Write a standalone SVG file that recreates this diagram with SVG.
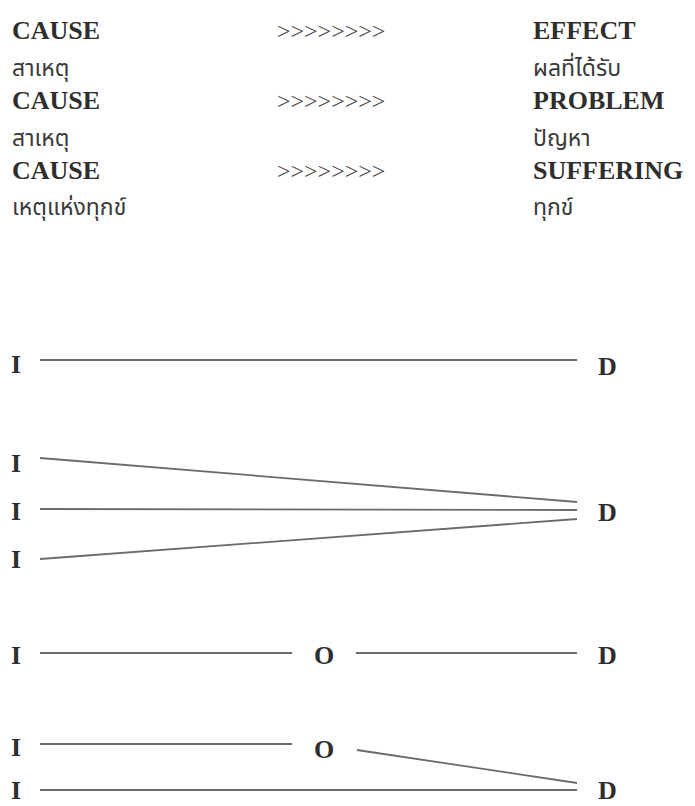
<svg xmlns="http://www.w3.org/2000/svg" width="695" height="806" viewBox="0 0 695 806">
<style>
.en{font-family:"Liberation Serif","Times New Roman",serif;font-weight:bold;font-size:26px;fill:#2e2e2e}
.th{font-family:"Noto Sans Thai","Noto Serif Thai","Loma","Garuda","Tlwg Typo","DejaVu Sans","Noto Sans",sans-serif;font-size:23px;fill:#3a3a3a}
.arr{font-family:"Liberation Serif","Times New Roman",serif;font-size:24px;fill:#444}
.c{stroke:#6b6b6b;stroke-width:1.8;fill:none;stroke-linecap:butt}
</style>
<rect width="695" height="806" fill="#ffffff"/>
<g id="table">
  <g id="row1">
    <text class="en" x="12" y="39">CAUSE</text>
    <text class="arr" x="277" y="39">&gt;&gt;&gt;&gt;&gt;&gt;&gt;&gt;</text>
    <text class="en" x="533" y="39">EFFECT</text>
  </g>
  <g id="row2">
    <text class="th" x="12" y="76">สาเหตุ</text>
    <text class="th" x="533" y="76">ผลที่ได้รับ</text>
  </g>
  <g id="row3">
    <text class="en" x="12" y="109">CAUSE</text>
    <text class="arr" x="277" y="109">&gt;&gt;&gt;&gt;&gt;&gt;&gt;&gt;</text>
    <text class="en" x="533" y="109">PROBLEM</text>
  </g>
  <g id="row4">
    <text class="th" x="12" y="146">สาเหตุ</text>
    <text class="th" x="533" y="146">ปัญหา</text>
  </g>
  <g id="row5">
    <text class="en" x="12" y="179">CAUSE</text>
    <text class="arr" x="277" y="179">&gt;&gt;&gt;&gt;&gt;&gt;&gt;&gt;</text>
    <text class="en" x="533" y="179">SUFFERING</text>
  </g>
  <g id="row6">
    <text class="th" x="12" y="215">เหตุแห่งทุกข์</text>
    <text class="th" x="533" y="215">ทุกข์</text>
  </g>
</g>
<g id="connectors">
  <line class="c" x1="40" y1="360" x2="577" y2="360"/>
  <line class="c" x1="40" y1="458" x2="577" y2="502"/>
  <line class="c" x1="40" y1="509" x2="577" y2="510"/>
  <line class="c" x1="40" y1="559" x2="577" y2="519"/>
  <line class="c" x1="40" y1="653" x2="292" y2="653"/>
  <line class="c" x1="356" y1="653" x2="577" y2="653"/>
  <line class="c" x1="40" y1="744" x2="292" y2="744"/>
  <line class="c" x1="357" y1="750" x2="577" y2="783"/>
  <line class="c" x1="40" y1="790" x2="577" y2="790"/>
</g>
<g id="n_i1"><text class="en" x="11" y="373">I</text></g>
<g id="n_d1"><text class="en" x="598" y="375">D</text></g>
<g id="n_i2a"><text class="en" x="11" y="472">I</text></g>
<g id="n_i2b"><text class="en" x="11" y="520">I</text></g>
<g id="n_i2c"><text class="en" x="11" y="568">I</text></g>
<g id="n_d2"><text class="en" x="598" y="521">D</text></g>
<g id="n_i3"><text class="en" x="11" y="664">I</text></g>
<g id="n_o3"><text class="en" x="314" y="664">O</text></g>
<g id="n_d3"><text class="en" x="598" y="664">D</text></g>
<g id="n_i4a"><text class="en" x="11" y="756">I</text></g>
<g id="n_o4"><text class="en" x="314" y="758">O</text></g>
<g id="n_i4b"><text class="en" x="11" y="799">I</text></g>
<g id="n_d4"><text class="en" x="598" y="799">D</text></g>
</svg>
